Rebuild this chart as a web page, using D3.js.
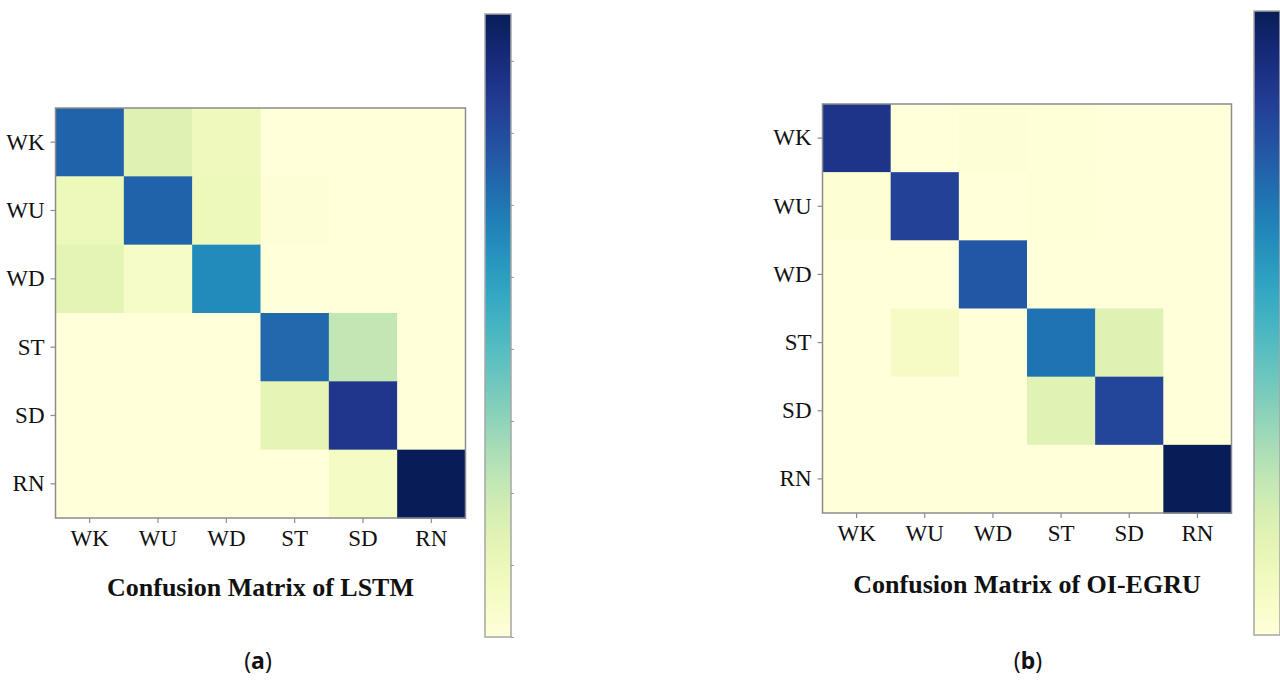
<!DOCTYPE html>
<html>
<head>
<meta charset="utf-8">
<script src="https://cdn.jsdelivr.net/npm/d3@7"></script>
<style>
  html, body { margin: 0; padding: 0; background: #ffffff; }
  svg { display: block; }
</style>
</head>
<body>
<svg id="chart" width="1280" height="680"></svg>
<script>
// Activity classes (rows = true label, columns = predicted label)
const classes = ["WK", "WU", "WD", "ST", "SD", "RN"];

// Confusion matrix counts for the LSTM model
const lstmMatrix = [
  [128, 29, 17,   0,   0,   0],
  [ 19,128, 19,   2,   0,   0],
  [ 26, 10,110,   0,   0,   0],
  [  0,  0,  0, 126,  43,   0],
  [  0,  0,  0,  24, 152,   0],
  [  0,  0,  0,   0,  12, 173]
];

// Confusion matrix counts for the OI-EGRU model
const egruMatrix = [
  [160,  0,  2,   1,   0,   0],
  [  3,151,  0,   1,   0,   0],
  [  0,  0,139,   0,   0,   0],
  [  0, 11,  0, 126,  31,   0],
  [  0,  0,  0,  29, 149,   0],
  [  0,  0,  0,   0,   0, 180]
];

// Colour bar tick values (every 20 counts)
const lstmBarTicks = [0, 20, 40, 60, 80, 100, 120, 140, 160];
const egruBarTicks = [0, 20, 40, 60, 80, 100, 120, 140, 160];

const titles = ["Confusion Matrix of LSTM", "Confusion Matrix of OI-EGRU"];
const panelTags = ["a", "b"];

const svg = d3.select("#chart");
const defs = svg.append("defs");

const serif = "'Liberation Serif', 'Times New Roman', serif";
const frameColor = "#8c8c8c";

const panels = [
  { matrix: lstmMatrix, ticks: lstmBarTicks, title: titles[0], tag: panelTags[0],
    x0: 55.5, y0: 108, size: 410,
    bar: { x: 485, y: 14, w: 26, h: 623 },
    titleY: 596, tagX: 258, tagY: 669 },
  { matrix: egruMatrix, ticks: egruBarTicks, title: titles[1], tag: panelTags[1],
    x0: 822.5, y0: 104, size: 409,
    bar: { x: 1254, y: 11, w: 26, h: 624 },
    titleY: 593, tagX: 1028, tagY: 669 }
];

panels.forEach((p, pi) => {
  const vmax = d3.max(p.matrix.flat());
  const color = d3.scaleSequential(d3.interpolateYlGnBu).domain([0, vmax]);

  const x = d3.scaleBand().domain(classes).range([p.x0, p.x0 + p.size]);
  const y = d3.scaleBand().domain(classes).range([p.y0, p.y0 + p.size]);

  const g = svg.append("g");

  // Heatmap cells
  const cells = [];
  p.matrix.forEach((row, i) => row.forEach((v, j) => cells.push({ r: classes[i], c: classes[j], v })));
  g.selectAll("rect.cell")
    .data(cells)
    .join("rect")
    .attr("class", "cell")
    .attr("x", d => x(d.c))
    .attr("y", d => y(d.r))
    .attr("width", x.bandwidth() + 0.5)
    .attr("height", y.bandwidth() + 0.5)
    .attr("fill", d => color(d.v));

  // Frame
  g.append("rect")
    .attr("x", p.x0).attr("y", p.y0)
    .attr("width", p.size).attr("height", p.size)
    .attr("fill", "none")
    .attr("stroke", frameColor)
    .attr("stroke-width", 1.5);

  // Axes
  const xAxis = g.append("g")
    .attr("transform", `translate(0,${p.y0 + p.size})`)
    .call(d3.axisBottom(x).tickSize(5).tickPadding(7));
  const yAxis = g.append("g")
    .attr("transform", `translate(${p.x0},0)`)
    .call(d3.axisLeft(y).tickSize(5).tickPadding(6));
  [xAxis, yAxis].forEach(a => {
    a.select(".domain").remove();
    a.selectAll(".tick line").attr("stroke", frameColor).attr("stroke-width", 1.2);
    a.selectAll(".tick text")
      .attr("fill", "#111")
      .style("font-family", serif)
      .style("font-size", "23px");
  });

  // Colour bar
  const gradId = "grad" + pi;
  const grad = defs.append("linearGradient")
    .attr("id", gradId)
    .attr("x1", "0").attr("y1", "1").attr("x2", "0").attr("y2", "0");
  d3.range(0, 1.0001, 0.05).forEach(t => {
    grad.append("stop").attr("offset", t).attr("stop-color", d3.interpolateYlGnBu(t));
  });
  const b = p.bar;
  g.append("rect")
    .attr("x", b.x).attr("y", b.y).attr("width", b.w).attr("height", b.h)
    .attr("fill", `url(#${gradId})`)
    .attr("stroke", "#a6a6a6")
    .attr("stroke-width", 1.5);

  const barScale = d3.scaleLinear().domain([0, vmax]).range([b.y + b.h, b.y]);
  const barAxis = g.append("g")
    .attr("transform", `translate(${b.x + b.w},0)`)
    .call(d3.axisRight(barScale).tickValues(p.ticks).tickSize(3).tickFormat(""));
  barAxis.select(".domain").remove();
  barAxis.selectAll(".tick line").attr("stroke", "#999").attr("stroke-width", 1);

  // Title
  g.append("text")
    .attr("x", p.x0 + p.size / 2)
    .attr("y", p.titleY)
    .attr("text-anchor", "middle")
    .style("font-family", serif)
    .style("font-weight", "bold")
    .style("font-size", "26px")
    .attr("fill", "#111")
    .text(p.title);

  // Panel tag, e.g. (a)
  const tag = g.append("text")
    .attr("x", p.tagX)
    .attr("y", p.tagY)
    .attr("text-anchor", "middle")
    .style("font-family", "'Noto Sans', 'DejaVu Sans', sans-serif")
    .style("font-size", "23px")
    .attr("fill", "#111");
  tag.append("tspan").text("(");
  tag.append("tspan").style("font-weight", "bold").text(p.tag);
  tag.append("tspan").text(")");
});
</script>
</body>
</html>
